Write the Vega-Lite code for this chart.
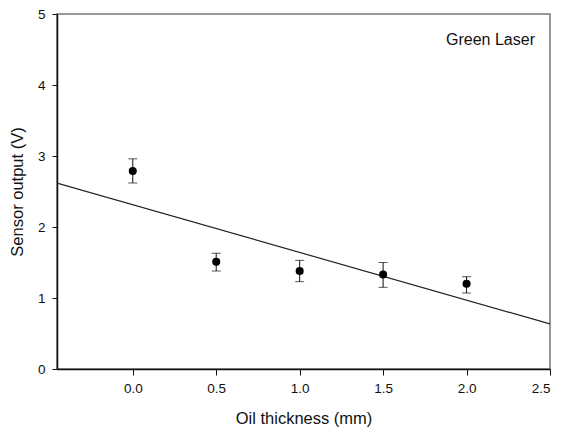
{
  "$schema": "https://vega.github.io/schema/vega-lite/v6.json",
  "width": 493,
  "height": 355,
  "autosize": {"type": "none"},
  "padding": {"left": 57, "top": 14, "right": 12, "bottom": 65},
  "background": "white",
  "config": {
    "font": "Liberation Sans",
    "view": {"stroke": "#777", "strokeWidth": 1.5},
    "axis": {
      "grid": false,
      "domainColor": "#111",
      "domainWidth": 1.5,
      "tickColor": "#111",
      "tickWidth": 1,
      "labelFont": "Liberation Sans",
      "titleFont": "Liberation Sans",
      "labelFontSize": 13.5,
      "titleFontSize": 16.5,
      "labelColor": "#111",
      "titleColor": "#111",
      "titleFontWeight": "normal"
    }
  },
  "data": {
    "values": [
      {"thickness": 0.0, "output": 2.79, "low": 2.62, "high": 2.96},
      {"thickness": 0.5, "output": 1.51, "low": 1.38, "high": 1.63},
      {"thickness": 1.0, "output": 1.38, "low": 1.23, "high": 1.53},
      {"thickness": 1.5, "output": 1.33, "low": 1.15, "high": 1.50},
      {"thickness": 2.0, "output": 1.20, "low": 1.07, "high": 1.30}
    ]
  },
  "layer": [
    {
      "transform": [{"regression": "output", "on": "thickness", "extent": [-0.454, 2.5]}],
      "mark": {"type": "line", "color": "#222", "strokeWidth": 1.2, "clip": true},
      "encoding": {
        "x": {
          "field": "thickness", "type": "quantitative",
          "scale": {"domain": [-0.454, 2.5], "nice": false, "zero": false},
          "axis": {"values": [0, 0.5, 1, 1.5, 2, 2.5], "format": ".1f", "tickSize": 6, "labelPadding": 6, "titlePadding": 16, "title": "Oil thickness (mm)"}
        },
        "y": {
          "field": "output", "type": "quantitative",
          "scale": {"domain": [0, 5], "nice": false},
          "axis": {"values": [0, 1, 2, 3, 4, 5], "format": "d", "tickSize": 5, "labelPadding": 7, "titlePadding": 12, "title": "Sensor output (V)"}
        }
      }
    },
    {
      "mark": {"type": "rule", "color": "#111", "strokeWidth": 1},
      "encoding": {
        "x": {"field": "thickness", "type": "quantitative"},
        "y": {"field": "low", "type": "quantitative"},
        "y2": {"field": "high"}
      }
    },
    {
      "mark": {"type": "tick", "orient": "horizontal", "color": "#111", "size": 9, "thickness": 1},
      "encoding": {
        "x": {"field": "thickness", "type": "quantitative"},
        "y": {"field": "low", "type": "quantitative"}
      }
    },
    {
      "mark": {"type": "tick", "orient": "horizontal", "color": "#111", "size": 9, "thickness": 1},
      "encoding": {
        "x": {"field": "thickness", "type": "quantitative"},
        "y": {"field": "high", "type": "quantitative"}
      }
    },
    {
      "mark": {"type": "point", "filled": true, "shape": "circle", "size": 65, "color": "#000", "opacity": 1},
      "encoding": {
        "x": {"field": "thickness", "type": "quantitative"},
        "y": {"field": "output", "type": "quantitative"}
      }
    },
    {
      "data": {"values": [{"label": "Green Laser", "x": 2.41, "y": 4.64}]},
      "mark": {"type": "text", "align": "right", "baseline": "middle", "fontSize": 16, "font": "Liberation Sans", "color": "#111"},
      "encoding": {
        "x": {"field": "x", "type": "quantitative"},
        "y": {"field": "y", "type": "quantitative"},
        "text": {"field": "label"}
      }
    }
  ]
}
